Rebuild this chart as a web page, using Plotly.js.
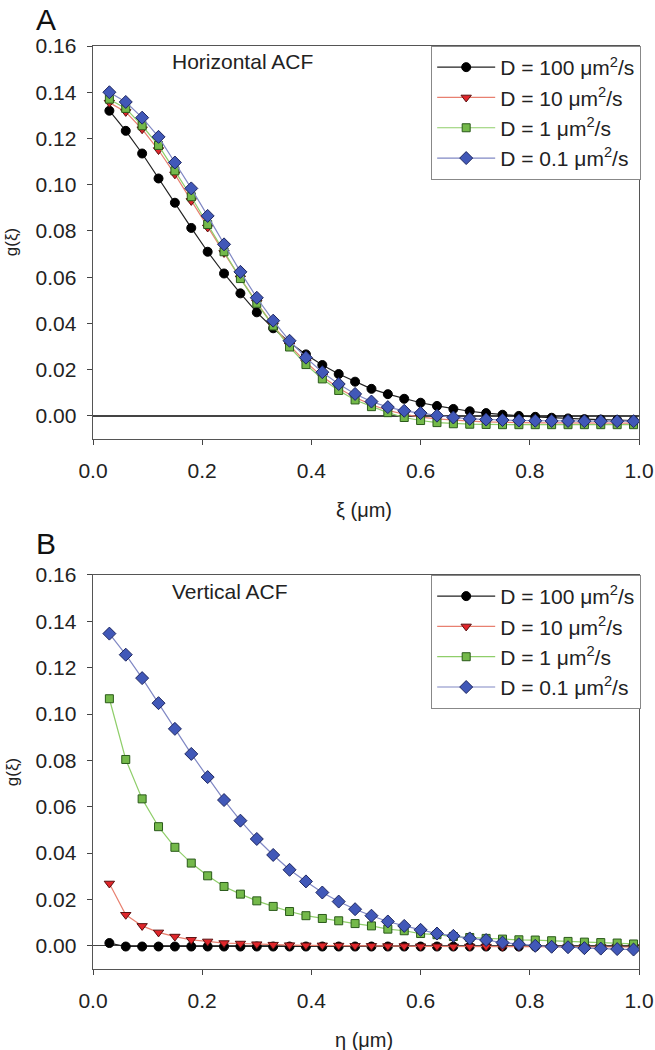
<!DOCTYPE html>
<html>
<head>
<meta charset="utf-8">
<script src="https://cdn.plot.ly/plotly-3.0.1.min.js"></script>
<style>html,body{margin:0;padding:0;background:#fff;}#chart{width:655px;height:1050px;}</style>
</head>
<body>
<div id="chart"></div>
<script>
const xVals = [0.03,0.06,0.09,0.12,0.15,0.18,0.21,0.24,0.27,0.30,0.33,0.36,0.39,0.42,0.45,0.48,0.51,0.54,0.57,0.60,0.63,0.66,0.69,0.72,0.75,0.78,0.81,0.84,0.87,0.90,0.93,0.96,0.99];

const seriesNames = ["D = 100 μm<sup>2</sup>/s","D = 10 μm<sup>2</sup>/s","D = 1 μm<sup>2</sup>/s","D = 0.1 μm<sup>2</sup>/s"];

// Panel A: Horizontal ACF
const hD100 = [0.1320,0.1233,0.1135,0.1027,0.0922,0.0813,0.0710,0.0616,0.0530,0.0448,0.0379,0.0318,0.0266,0.0220,0.0181,0.0148,0.0117,0.0094,0.0074,0.0057,0.0043,0.0030,0.0020,0.0012,0.0005,0.0000,-0.0004,-0.0008,-0.0011,-0.0014,-0.0016,-0.0018,-0.0020];
const hD10  = [0.1355,0.1315,0.1240,0.1150,0.1045,0.0930,0.0815,0.0705,0.0595,0.0490,0.0392,0.0305,0.0232,0.0170,0.0120,0.0080,0.0048,0.0024,0.0007,-0.0005,-0.0013,-0.0019,-0.0023,-0.0026,-0.0028,-0.0029,-0.0030,-0.0030,-0.0031,-0.0031,-0.0031,-0.0031,-0.0031];
const hD1   = [0.1370,0.1330,0.1255,0.1170,0.1060,0.0948,0.0828,0.0710,0.0594,0.0487,0.0389,0.0298,0.0222,0.0160,0.0110,0.0069,0.0040,0.0014,-0.0007,-0.0020,-0.0029,-0.0034,-0.0036,-0.0037,-0.0038,-0.0038,-0.0038,-0.0038,-0.0038,-0.0038,-0.0038,-0.0038,-0.0038];
const hD01  = [0.1400,0.1358,0.1290,0.1207,0.1096,0.0984,0.0865,0.0742,0.0623,0.0511,0.0412,0.0325,0.0252,0.0189,0.0138,0.0095,0.0062,0.0038,0.0022,0.0012,0.0001,-0.0007,-0.0013,-0.0016,-0.0018,-0.0020,-0.0021,-0.0022,-0.0022,-0.0023,-0.0023,-0.0023,-0.0023];

// Panel B: Vertical ACF
const vD100 = [0.0012,-0.0003,-0.0003,-0.0003,-0.0003,-0.0003,-0.0003,-0.0003,-0.0003,-0.0003,-0.0003,-0.0003,-0.0003,-0.0003,-0.0003,-0.0003,-0.0003,-0.0003,-0.0003,-0.0003,-0.0003,-0.0003,-0.0003,-0.0003,-0.0003,-0.0003,-0.0003,-0.0003,-0.0003,-0.0003,-0.0003,-0.0003,-0.0003];
const vD10  = [0.0269,0.0134,0.0086,0.0058,0.0040,0.0026,0.0019,0.0012,0.0010,0.0007,0.0005,0.0003,0.0002,0.0002,0.0001,0.0000,0.0000,-0.0001,-0.0001,-0.0002,-0.0002,-0.0003,-0.0003,-0.0003,-0.0004,-0.0004,-0.0004,-0.0004,-0.0005,-0.0005,-0.0005,-0.0005,-0.0005];
const vD1   = [0.1066,0.0804,0.0634,0.0514,0.0425,0.0357,0.0302,0.0256,0.0223,0.0194,0.0170,0.0148,0.0130,0.0118,0.0108,0.0096,0.0086,0.0072,0.0065,0.0053,0.0048,0.0040,0.0036,0.0032,0.0029,0.0026,0.0025,0.0022,0.0019,0.0016,0.0014,0.0012,0.0008];
const vD01  = [0.1347,0.1256,0.1155,0.1047,0.0936,0.0828,0.0728,0.0629,0.0540,0.0461,0.0392,0.0328,0.0278,0.0230,0.0191,0.0158,0.0130,0.0105,0.0086,0.0069,0.0053,0.0043,0.0032,0.0025,0.0014,0.0007,0.0000,-0.0004,-0.0006,-0.0010,-0.0012,-0.0014,-0.0016];

const styles = [
  {line:'#222222', fill:'#000000', edge:'#000000', symbol:'circle', size:9},
  {line:'#e88070', fill:'#e0262b', edge:'#5a1010', symbol:'triangle-down', size:9},
  {line:'#8fce6a', fill:'#74b94a', edge:'#2a5a1a', symbol:'square', size:8},
  {line:'#8088c4', fill:'#4158b8', edge:'#1d2660', symbol:'diamond', size:10}
];

const FONT = 'Liberation Sans, Arial, sans-serif';
const hData = [hD100,hD10,hD1,hD01];
const vData = [vD100,vD10,vD1,vD01];
const traces = [];
function addPanel(data, xa, ya, leg){
  data.forEach((ys,i)=>{
    const s = styles[i];
    traces.push({x:xVals, y:ys, xaxis:xa, yaxis:ya, type:'scatter', mode:'lines+markers', name:seriesNames[i], legend:leg,
      line:{color:s.line, width:1.2}, marker:{symbol:s.symbol, size:s.size, color:s.fill, line:{color:s.edge, width:1}}});
  });
}
addPanel(hData,'x','y','legend');
addPanel(vData,'x2','y2','legend2');

function xax(anchor){
  return {anchor:anchor, range:[0,1.0], tick0:0, dtick:0.2, tickformat:'.1f', ticks:'outside', ticklen:5, tickcolor:'#444',
    showline:true, linecolor:'#555', linewidth:1.4, mirror:true, showgrid:false, zeroline:false,
    tickfont:{family:FONT, size:21, color:'#222'}, ticklabelstandoff:7};
}
function yax(anchor, domain){
  return {anchor:anchor, domain:domain, range:[-0.01,0.16], tick0:0, dtick:0.02, tickformat:'.2f', ticks:'outside', ticklen:5, tickcolor:'#444',
    showline:true, linecolor:'#555', linewidth:1.4, mirror:true, showgrid:false, zeroline:true, zerolinecolor:'#444', zerolinewidth:1.3,
    tickfont:{family:FONT, size:21, color:'#222'}, ticklabelstandoff:6};
}
const legBase = {bgcolor:'#ffffff', bordercolor:'#888', borderwidth:1, font:{family:FONT, size:21, color:'#222'}, xanchor:'right', yanchor:'top', x:1.004, tracegroupgap:0, itemwidth:58};

const layout = {
  width:655, height:1050, paper_bgcolor:'#fff', plot_bgcolor:'#fff',
  margin:{l:93, r:16, t:46, b:81},
  font:{family:FONT, color:'#222'},
  xaxis:xax('y'), yaxis:yax('x',[0.5742,1]),
  xaxis2:xax('y2'), yaxis2:yax('x2',[0,0.4269]),
  legend:Object.assign({}, legBase, {y:1}),
  legend2:Object.assign({}, legBase, {y:0.4269}),
  annotations:[
    {text:'A', xref:'paper', yref:'paper', x:-0.086, y:1.029, xanchor:'center', yanchor:'middle', showarrow:false, font:{family:FONT, size:30, color:'#111'}},
    {text:'B', xref:'paper', yref:'paper', x:-0.086, y:0.4605, xanchor:'center', yanchor:'middle', showarrow:false, font:{family:FONT, size:30, color:'#111'}},
    {text:'Horizontal ACF', xref:'paper', yref:'paper', x:0.141, y:0.9827, xanchor:'left', yanchor:'middle', showarrow:false, font:{family:FONT, size:21, color:'#222'}},
    {text:'Vertical ACF', xref:'paper', yref:'paper', x:0.141, y:0.4085, xanchor:'left', yanchor:'middle', showarrow:false, font:{family:FONT, size:21, color:'#222'}},
    {text:'g(ξ)', xref:'paper', yref:'paper', x:-0.148, y:0.7877, xanchor:'center', yanchor:'middle', textangle:-90, showarrow:false, font:{family:FONT, size:17, color:'#222'}},
    {text:'g(ξ)', xref:'paper', yref:'paper', x:-0.148, y:0.2134, xanchor:'center', yanchor:'middle', textangle:-90, showarrow:false, font:{family:FONT, size:17, color:'#222'}},
    {text:'ξ (μm)', xref:'paper', yref:'paper', x:0.496, y:0.4973, xanchor:'center', yanchor:'middle', showarrow:false, font:{family:FONT, size:20, color:'#222'}},
    {text:'η (μm)', xref:'paper', yref:'paper', x:0.496, y:-0.077, xanchor:'center', yanchor:'middle', showarrow:false, font:{family:FONT, size:20, color:'#222'}}
  ]
};

Plotly.newPlot('chart', traces, layout, {displayModeBar:false, staticPlot:true});
</script>
</body>
</html>
